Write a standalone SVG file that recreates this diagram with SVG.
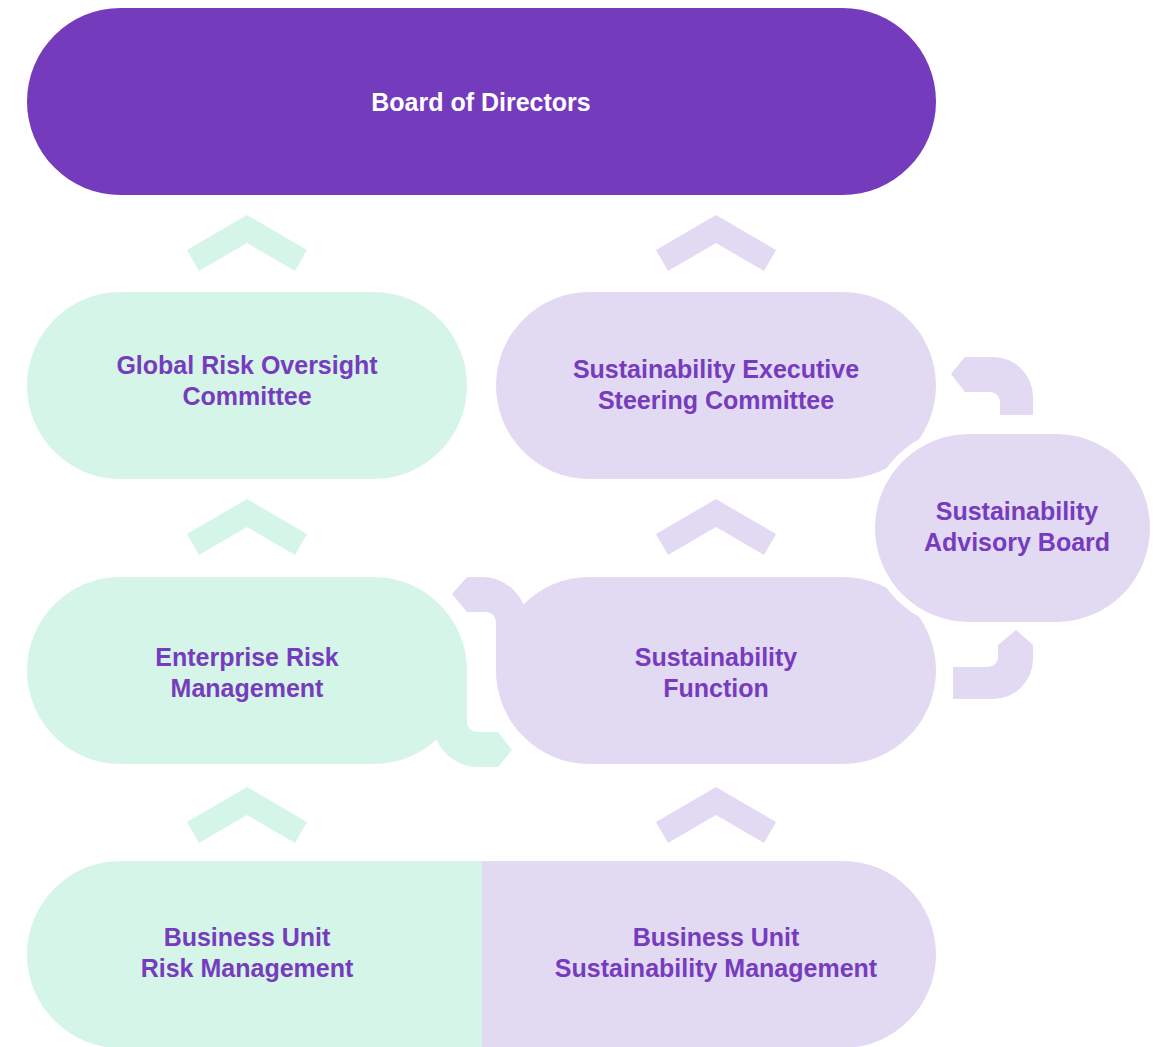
<svg xmlns="http://www.w3.org/2000/svg" width="1153" height="1047" viewBox="0 0 1153 1047">
<defs>
<style>
.mint{fill:#D5F5E9}
.lav{fill:#E2D9F2}
.lbl{font-family:"Liberation Sans",Arial,sans-serif;font-weight:700;font-size:25px;fill:#763CBD;text-anchor:middle}
</style>
<polygon id="chev" points="0,0 60,35 48,56 0,28 -48,56 -60,35"/>
</defs>
<rect width="1153" height="1047" fill="#FFFFFF"/>

<g id="connectors">
<use href="#chev" x="247" y="215" class="mint"/>
<use href="#chev" x="716" y="215" class="lav"/>
<use href="#chev" x="247" y="499" class="mint"/>
<use href="#chev" x="716" y="499" class="lav"/>
<use href="#chev" x="247" y="787" class="mint"/>
<use href="#chev" x="716" y="787" class="lav"/>
<path class="mint" d="M467,668 L467,722 A10,10 0 0 0 477,732 L498,732 L512,750 L498,767 L478,767 A45,45 0 0 1 433,722 L433,668 Z"/>
<path class="lav" d="M452,594 L467,577 L482,577 A45,45 0 0 1 527,622 L527,672 L496,672 L496,622 A10,10 0 0 0 486,612 L467,612 Z"/>
<path class="lav" d="M951,374 L965,357 L993,357 A40,40 0 0 1 1033,397 L1033,415 L1000,415 L1000,402 A10,10 0 0 0 990,392 L965,392 Z"/>
<path class="lav" d="M953,667 L988,667 A10,10 0 0 0 998,657 L998,645 L1016,630 L1033,645 L1033,659 A40,40 0 0 1 993,699 L953,699 Z"/>
</g>

<g id="board">
<rect x="27" y="8" width="909" height="187" rx="93.5" fill="#753BBD"/>
<text class="lbl" x="481" y="111" style="fill:#FFFFFF">Board of Directors</text>
</g>

<g id="global-risk">
<rect class="mint" x="27" y="292" width="440" height="187" rx="93.5"/>
<text class="lbl" x="247" y="374">Global Risk Oversight</text>
<text class="lbl" x="247" y="405">Committee</text>
</g>

<g id="sesc">
<rect class="lav" x="496" y="292" width="440" height="187" rx="93.5"/>
<text class="lbl" x="716" y="378">Sustainability Executive</text>
<text class="lbl" x="716" y="409">Steering Committee</text>
</g>

<g id="erm">
<rect class="mint" x="27" y="577" width="440" height="187" rx="93.5"/>
<text class="lbl" x="247" y="666">Enterprise Risk</text>
<text class="lbl" x="247" y="697">Management</text>
</g>

<g id="sf">
<rect class="lav" x="496" y="577" width="440" height="187" rx="93.5"/>
<text class="lbl" x="716" y="666">Sustainability</text>
<text class="lbl" x="716" y="697">Function</text>
</g>

<g id="advisory">
<rect x="875" y="434" width="275" height="188" rx="94" class="lav" stroke="#FFFFFF" stroke-width="16" paint-order="stroke"/>
<text class="lbl" x="1017" y="520">Sustainability</text>
<text class="lbl" x="1017" y="551">Advisory Board</text>
</g>

<g id="bu-risk">
<path class="mint" d="M482,861 L120.5,861 A93.5,93.5 0 0 0 120.5,1048 L482,1048 Z"/>
<text class="lbl" x="247" y="946">Business Unit</text>
<text class="lbl" x="247" y="977">Risk Management</text>
</g>

<g id="bu-sust">
<path class="lav" d="M482,861 L842.5,861 A93.5,93.5 0 0 1 842.5,1048 L482,1048 Z"/>
<text class="lbl" x="716" y="946">Business Unit</text>
<text class="lbl" x="716" y="977">Sustainability Management</text>
</g>
</svg>
